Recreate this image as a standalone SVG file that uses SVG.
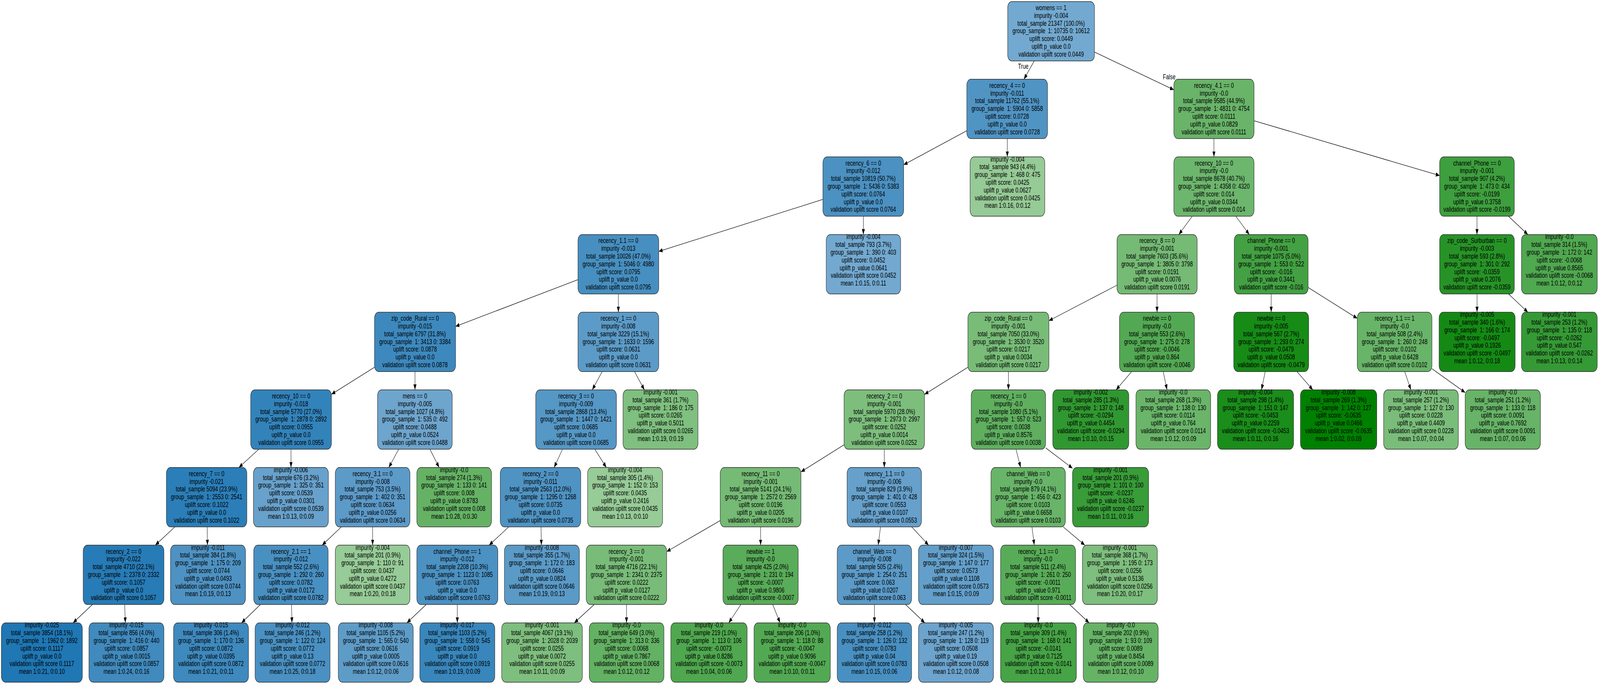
<svg xmlns="http://www.w3.org/2000/svg" width="5827" height="1751" viewBox="0 0 5827 1751" preserveAspectRatio="none" style="width:100vw;height:100vh;display:block">
<defs>
<style>
.node rect{stroke:#2b2b2b;stroke-width:1.5}
text{font-family:"Liberation Sans",Arial,Helvetica,sans-serif;font-size:18.8px;text-anchor:middle;fill:#000}
.edge line{stroke:#000;stroke-width:1.3;fill:none;marker-end:url(#arr)}
</style>
<marker id="arr" markerUnits="userSpaceOnUse" markerWidth="14" markerHeight="11" viewBox="0 0 14 11" refX="14" refY="5.5" orient="auto"><path d="M0,0L14,5.5L0,11z" fill="#000"/></marker>
</defs>
<rect x="0" y="0" width="5827" height="1751" fill="#fff"/>
<g id="edges" class="edge">
<line x1="3766.5" y1="156" x2="3729" y2="202.8"/>
<line x1="3985" y1="132.8" x2="4275" y2="229.9"/>
<line x1="3521" y1="334.6" x2="3291" y2="421.8"/>
<line x1="3668.5" y1="354.8" x2="3668.5" y2="401.6"/>
<line x1="4421" y1="354.8" x2="4421" y2="401.6"/>
<line x1="4567" y1="309.1" x2="5243" y2="449.4"/>
<line x1="2997" y1="510.4" x2="2399" y2="643.6"/>
<line x1="3144.3" y1="553.6" x2="3144.3" y2="600.4"/>
<line x1="4341.9" y1="553.6" x2="4293.1" y2="600.4"/>
<line x1="4500.7" y1="553.6" x2="4549.8" y2="600.4"/>
<line x1="5379" y1="553.6" x2="5379" y2="600.4"/>
<line x1="5493.7" y1="553.6" x2="5564.3" y2="600.4"/>
<line x1="2105" y1="715.9" x2="1659" y2="835.6"/>
<line x1="2252" y1="752.4" x2="2252" y2="799.2"/>
<line x1="4068" y1="730" x2="3820" y2="821"/>
<line x1="4213.8" y1="752.4" x2="4213.8" y2="799.2"/>
<line x1="4629.5" y1="752.4" x2="4629.5" y2="799.2"/>
<line x1="4764" y1="735.9" x2="4943" y2="815.1"/>
<line x1="5379.2" y1="752.4" x2="5379.2" y2="799.2"/>
<line x1="5493.7" y1="752.4" x2="5564.3" y2="799.2"/>
<line x1="1364" y1="940.1" x2="1207" y2="1009.3"/>
<line x1="1511.3" y1="951.2" x2="1511.3" y2="998"/>
<line x1="2193.1" y1="951.2" x2="2156.9" y2="998"/>
<line x1="2310.7" y1="951.2" x2="2346.8" y2="998"/>
<line x1="3525" y1="940.1" x2="3367" y2="1009.6"/>
<line x1="3672.5" y1="951.2" x2="3672.5" y2="998"/>
<line x1="4121.4" y1="951.2" x2="4064.6" y2="998"/>
<line x1="4236.2" y1="951.2" x2="4250.3" y2="998"/>
<line x1="4607.7" y1="951.2" x2="4594.3" y2="998"/>
<line x1="4723.4" y1="951.2" x2="4781.1" y2="998"/>
<line x1="5115.7" y1="951.2" x2="5138.3" y2="998"/>
<line x1="5215" y1="943.8" x2="5336" y2="1004.9"/>
<line x1="942.4" y1="1150" x2="870.1" y2="1196.8"/>
<line x1="1059.8" y1="1150" x2="1059.8" y2="1196.8"/>
<line x1="1452.1" y1="1150" x2="1415.9" y2="1196.8"/>
<line x1="1565.7" y1="1150" x2="1599.3" y2="1196.8"/>
<line x1="2048.5" y1="1150" x2="2018" y2="1196.8"/>
<line x1="2166.2" y1="1150" x2="2208.3" y2="1196.8"/>
<line x1="3074" y1="1138.6" x2="2917" y2="1207.9"/>
<line x1="3220.5" y1="1150" x2="3220.5" y2="1196.8"/>
<line x1="3700" y1="1150" x2="3717" y2="1196.8"/>
<line x1="3808" y1="1146.4" x2="3906" y2="1198.8"/>
<line x1="636.9" y1="1348.8" x2="565.6" y2="1395.6"/>
<line x1="754.4" y1="1348.8" x2="755.6" y2="1395.6"/>
<line x1="1243.3" y1="1348.8" x2="1173.2" y2="1395.6"/>
<line x1="1357" y1="1348.8" x2="1357" y2="1395.6"/>
<line x1="1852.7" y1="1348.8" x2="1781.3" y2="1395.6"/>
<line x1="1970.4" y1="1348.8" x2="1971.6" y2="1395.6"/>
<line x1="2623" y1="1332.6" x2="2428" y2="1412"/>
<line x1="2770" y1="1348.8" x2="2770" y2="1395.6"/>
<line x1="3206.7" y1="1348.8" x2="3198.3" y2="1395.6"/>
<line x1="3320.3" y1="1348.8" x2="3381.7" y2="1395.6"/>
<line x1="3758.3" y1="1348.8" x2="3766.7" y2="1395.6"/>
<line x1="3872.2" y1="1348.8" x2="3950.8" y2="1395.6"/>
<line x1="336.3" y1="1547.6" x2="266.2" y2="1594.4"/>
<line x1="454" y1="1547.6" x2="456.5" y2="1594.4"/>
<line x1="948.3" y1="1547.6" x2="879.7" y2="1594.4"/>
<line x1="1061.8" y1="1547.6" x2="1063.2" y2="1594.4"/>
<line x1="1552" y1="1547.6" x2="1482" y2="1594.4"/>
<line x1="1665.5" y1="1547.6" x2="1665.5" y2="1594.4"/>
<line x1="2163.9" y1="1547.6" x2="2091.6" y2="1594.4"/>
<line x1="2281.7" y1="1547.6" x2="2281.7" y2="1594.4"/>
<line x1="2698.1" y1="1547.6" x2="2653.9" y2="1594.4"/>
<line x1="2814" y1="1547.6" x2="2841" y2="1594.4"/>
<line x1="3184.5" y1="1547.6" x2="3184.5" y2="1594.4"/>
<line x1="3298" y1="1547.6" x2="3368" y2="1594.4"/>
<line x1="3781" y1="1547.6" x2="3781" y2="1594.4"/>
<line x1="3895.6" y1="1547.6" x2="3966.4" y2="1594.4"/>
<text x="3726.5" y="175.7">True</text>
<text x="4258" y="203">False</text>
</g>
<g id="n0" class="node"><rect x="3670" y="4" width="316" height="152" rx="15" fill="#73a9d0"/><text y="26"><tspan x="3828">womens == 1</tspan><tspan x="3828" dy="19.8">impurity -0.004</tspan><tspan x="3828" dy="19.8">total_sample 21347 (100.0%)</tspan><tspan x="3828" dy="19.8">group_sample&#160; 1: 10735 0: 10612</tspan><tspan x="3828" dy="19.8">uplift score: 0.0449</tspan><tspan x="3828" dy="19.8">uplift p_value 0.0</tspan><tspan x="3828" dy="19.8">validation uplift score 0.0449</tspan></text></g>
<g id="n1" class="node"><rect x="3521" y="202.8" width="294" height="152" rx="15" fill="#5094c4"/><text y="224.8"><tspan x="3668">recency_4 == 0</tspan><tspan x="3668" dy="19.8">impurity -0.011</tspan><tspan x="3668" dy="19.8">total_sample 11762 (55.1%)</tspan><tspan x="3668" dy="19.8">group_sample&#160; 1: 5904 0: 5858</tspan><tspan x="3668" dy="19.8">uplift score: 0.0728</tspan><tspan x="3668" dy="19.8">uplift p_value 0.0</tspan><tspan x="3668" dy="19.8">validation uplift score 0.0728</tspan></text></g>
<g id="n2" class="node"><rect x="4275" y="202.8" width="292" height="152" rx="15" fill="#69b469"/><text y="224.8"><tspan x="4421">recency_4.1 == 0</tspan><tspan x="4421" dy="19.8">impurity -0.0</tspan><tspan x="4421" dy="19.8">total_sample 9585 (44.9%)</tspan><tspan x="4421" dy="19.8">group_sample&#160; 1: 4831 0: 4754</tspan><tspan x="4421" dy="19.8">uplift score: 0.0111</tspan><tspan x="4421" dy="19.8">uplift p_value 0.0829</tspan><tspan x="4421" dy="19.8">validation uplift score 0.0111</tspan></text></g>
<g id="n3" class="node"><rect x="2997" y="401.6" width="294" height="152" rx="15" fill="#4b91c2"/><text y="423.6"><tspan x="3144">recency_6 == 0</tspan><tspan x="3144" dy="19.8">impurity -0.012</tspan><tspan x="3144" dy="19.8">total_sample 10819 (50.7%)</tspan><tspan x="3144" dy="19.8">group_sample&#160; 1: 5436 0: 5383</tspan><tspan x="3144" dy="19.8">uplift score: 0.0764</tspan><tspan x="3144" dy="19.8">uplift p_value 0.0</tspan><tspan x="3144" dy="19.8">validation uplift score 0.0764</tspan></text></g>
<g id="n4" class="node"><rect x="3533" y="401.6" width="272" height="152" rx="15" fill="#96ca96"/><text y="413.7"><tspan x="3669">impurity -0.004</tspan><tspan x="3669" dy="19.8">total_sample 943 (4.4%)</tspan><tspan x="3669" dy="19.8">group_sample&#160; 1: 468 0: 475</tspan><tspan x="3669" dy="19.8">uplift score: 0.0425</tspan><tspan x="3669" dy="19.8">uplift p_value 0.0627</tspan><tspan x="3669" dy="19.8">validation uplift score 0.0425</tspan><tspan x="3669" dy="19.8">mean 1:0.16, 0:0.12</tspan></text></g>
<g id="n5" class="node"><rect x="4275" y="401.6" width="292" height="152" rx="15" fill="#6db66d"/><text y="423.6"><tspan x="4421">recency_10 == 0</tspan><tspan x="4421" dy="19.8">impurity -0.0</tspan><tspan x="4421" dy="19.8">total_sample 8678 (40.7%)</tspan><tspan x="4421" dy="19.8">group_sample&#160; 1: 4358 0: 4320</tspan><tspan x="4421" dy="19.8">uplift score: 0.014</tspan><tspan x="4421" dy="19.8">uplift p_value 0.0344</tspan><tspan x="4421" dy="19.8">validation uplift score 0.014</tspan></text></g>
<g id="n6" class="node"><rect x="5243" y="401.6" width="272" height="152" rx="15" fill="#3e9f3e"/><text y="423.6"><tspan x="5379">channel_Phone == 0</tspan><tspan x="5379" dy="19.8">impurity -0.001</tspan><tspan x="5379" dy="19.8">total_sample 907 (4.2%)</tspan><tspan x="5379" dy="19.8">group_sample&#160; 1: 473 0: 434</tspan><tspan x="5379" dy="19.8">uplift score: -0.0199</tspan><tspan x="5379" dy="19.8">uplift p_value 0.3758</tspan><tspan x="5379" dy="19.8">validation uplift score -0.0199</tspan></text></g>
<g id="n7" class="node"><rect x="2105" y="600.4" width="294" height="152" rx="15" fill="#478fc1"/><text y="622.4"><tspan x="2252">recency_1.1 == 0</tspan><tspan x="2252" dy="19.8">impurity -0.013</tspan><tspan x="2252" dy="19.8">total_sample 10026 (47.0%)</tspan><tspan x="2252" dy="19.8">group_sample&#160; 1: 5046 0: 4980</tspan><tspan x="2252" dy="19.8">uplift score: 0.0795</tspan><tspan x="2252" dy="19.8">uplift p_value 0.0</tspan><tspan x="2252" dy="19.8">validation uplift score 0.0795</tspan></text></g>
<g id="n8" class="node"><rect x="3009" y="600.4" width="271" height="152" rx="15" fill="#73a9d0"/><text y="612.5"><tspan x="3144.5">impurity -0.004</tspan><tspan x="3144.5" dy="19.8">total_sample 793 (3.7%)</tspan><tspan x="3144.5" dy="19.8">group_sample&#160; 1: 390 0: 403</tspan><tspan x="3144.5" dy="19.8">uplift score: 0.0452</tspan><tspan x="3144.5" dy="19.8">uplift p_value 0.0641</tspan><tspan x="3144.5" dy="19.8">validation uplift score 0.0452</tspan><tspan x="3144.5" dy="19.8">mean 1:0.15, 0:0.11</tspan></text></g>
<g id="n9" class="node"><rect x="4068" y="600.4" width="292" height="152" rx="15" fill="#75ba75"/><text y="622.4"><tspan x="4214">recency_8 == 0</tspan><tspan x="4214" dy="19.8">impurity -0.001</tspan><tspan x="4214" dy="19.8">total_sample 7603 (35.6%)</tspan><tspan x="4214" dy="19.8">group_sample&#160; 1: 3805 0: 3798</tspan><tspan x="4214" dy="19.8">uplift score: 0.0191</tspan><tspan x="4214" dy="19.8">uplift p_value 0.0076</tspan><tspan x="4214" dy="19.8">validation uplift score 0.0191</tspan></text></g>
<g id="n10" class="node"><rect x="4495" y="600.4" width="269" height="152" rx="15" fill="#43a143"/><text y="622.4"><tspan x="4629.5">channel_Phone == 0</tspan><tspan x="4629.5" dy="19.8">impurity -0.001</tspan><tspan x="4629.5" dy="19.8">total_sample 1075 (5.0%)</tspan><tspan x="4629.5" dy="19.8">group_sample&#160; 1: 553 0: 522</tspan><tspan x="4629.5" dy="19.8">uplift score: -0.016</tspan><tspan x="4629.5" dy="19.8">uplift p_value 0.3441</tspan><tspan x="4629.5" dy="19.8">validation uplift score -0.016</tspan></text></g>
<g id="n11" class="node"><rect x="5243" y="600.4" width="272" height="152" rx="15" fill="#279327"/><text y="622.4"><tspan x="5379">zip_code_Surburban == 0</tspan><tspan x="5379" dy="19.8">impurity -0.003</tspan><tspan x="5379" dy="19.8">total_sample 593 (2.8%)</tspan><tspan x="5379" dy="19.8">group_sample&#160; 1: 301 0: 292</tspan><tspan x="5379" dy="19.8">uplift score: -0.0359</tspan><tspan x="5379" dy="19.8">uplift p_value 0.2076</tspan><tspan x="5379" dy="19.8">validation uplift score -0.0359</tspan></text></g>
<g id="n12" class="node"><rect x="5541" y="600.4" width="276" height="152" rx="15" fill="#50a850"/><text y="612.5"><tspan x="5679">impurity -0.0</tspan><tspan x="5679" dy="19.8">total_sample 314 (1.5%)</tspan><tspan x="5679" dy="19.8">group_sample&#160; 1: 172 0: 142</tspan><tspan x="5679" dy="19.8">uplift score: -0.0068</tspan><tspan x="5679" dy="19.8">uplift p_value 0.8565</tspan><tspan x="5679" dy="19.8">validation uplift score -0.0068</tspan><tspan x="5679" dy="19.8">mean 1:0.12, 0:0.12</tspan></text></g>
<g id="n13" class="node"><rect x="1364" y="799.2" width="295" height="152" rx="15" fill="#3d89be"/><text y="821.2"><tspan x="1511.5">zip_code_Rural == 0</tspan><tspan x="1511.5" dy="19.8">impurity -0.015</tspan><tspan x="1511.5" dy="19.8">total_sample 6797 (31.8%)</tspan><tspan x="1511.5" dy="19.8">group_sample&#160; 1: 3413 0: 3384</tspan><tspan x="1511.5" dy="19.8">uplift score: 0.0878</tspan><tspan x="1511.5" dy="19.8">uplift p_value 0.0</tspan><tspan x="1511.5" dy="19.8">validation uplift score 0.0878</tspan></text></g>
<g id="n14" class="node"><rect x="2105" y="799.2" width="294" height="152" rx="15" fill="#5c9bc8"/><text y="821.2"><tspan x="2252">recency_1 == 0</tspan><tspan x="2252" dy="19.8">impurity -0.008</tspan><tspan x="2252" dy="19.8">total_sample 3229 (15.1%)</tspan><tspan x="2252" dy="19.8">group_sample&#160; 1: 1633 0: 1596</tspan><tspan x="2252" dy="19.8">uplift score: 0.0631</tspan><tspan x="2252" dy="19.8">uplift p_value 0.0</tspan><tspan x="2252" dy="19.8">validation uplift score 0.0631</tspan></text></g>
<g id="n15" class="node"><rect x="3525" y="799.2" width="295" height="152" rx="15" fill="#78bc78"/><text y="821.2"><tspan x="3672.5">zip_code_Rural == 0</tspan><tspan x="3672.5" dy="19.8">impurity -0.001</tspan><tspan x="3672.5" dy="19.8">total_sample 7050 (33.0%)</tspan><tspan x="3672.5" dy="19.8">group_sample&#160; 1: 3530 0: 3520</tspan><tspan x="3672.5" dy="19.8">uplift score: 0.0217</tspan><tspan x="3672.5" dy="19.8">uplift p_value 0.0034</tspan><tspan x="3672.5" dy="19.8">validation uplift score 0.0217</tspan></text></g>
<g id="n16" class="node"><rect x="4077" y="799.2" width="273" height="152" rx="15" fill="#53a953"/><text y="821.2"><tspan x="4213.5">newbie == 0</tspan><tspan x="4213.5" dy="19.8">impurity -0.0</tspan><tspan x="4213.5" dy="19.8">total_sample 553 (2.6%)</tspan><tspan x="4213.5" dy="19.8">group_sample&#160; 1: 275 0: 278</tspan><tspan x="4213.5" dy="19.8">uplift score: -0.0046</tspan><tspan x="4213.5" dy="19.8">uplift p_value 0.864</tspan><tspan x="4213.5" dy="19.8">validation uplift score -0.0046</tspan></text></g>
<g id="n17" class="node"><rect x="4493" y="799.2" width="273" height="152" rx="15" fill="#168b16"/><text y="821.2"><tspan x="4629.5">newbie == 0</tspan><tspan x="4629.5" dy="19.8">impurity -0.005</tspan><tspan x="4629.5" dy="19.8">total_sample 567 (2.7%)</tspan><tspan x="4629.5" dy="19.8">group_sample&#160; 1: 293 0: 274</tspan><tspan x="4629.5" dy="19.8">uplift score: -0.0479</tspan><tspan x="4629.5" dy="19.8">uplift p_value 0.0508</tspan><tspan x="4629.5" dy="19.8">validation uplift score -0.0479</tspan></text></g>
<g id="n18" class="node"><rect x="4943" y="799.2" width="272" height="152" rx="15" fill="#68b468"/><text y="821.2"><tspan x="5079">recency_1.1 == 1</tspan><tspan x="5079" dy="19.8">impurity -0.0</tspan><tspan x="5079" dy="19.8">total_sample 508 (2.4%)</tspan><tspan x="5079" dy="19.8">group_sample&#160; 1: 260 0: 248</tspan><tspan x="5079" dy="19.8">uplift score: 0.0102</tspan><tspan x="5079" dy="19.8">uplift p_value 0.6428</tspan><tspan x="5079" dy="19.8">validation uplift score 0.0102</tspan></text></g>
<g id="n19" class="node"><rect x="5241" y="799.2" width="277" height="152" rx="15" fill="#148a14"/><text y="811.3"><tspan x="5379.5">impurity -0.005</tspan><tspan x="5379.5" dy="19.8">total_sample 340 (1.6%)</tspan><tspan x="5379.5" dy="19.8">group_sample&#160; 1: 166 0: 174</tspan><tspan x="5379.5" dy="19.8">uplift score: -0.0497</tspan><tspan x="5379.5" dy="19.8">uplift p_value 0.1926</tspan><tspan x="5379.5" dy="19.8">validation uplift score -0.0497</tspan><tspan x="5379.5" dy="19.8">mean 1:0.12, 0:0.18</tspan></text></g>
<g id="n20" class="node"><rect x="5541" y="799.2" width="276" height="152" rx="15" fill="#359a35"/><text y="811.3"><tspan x="5679">impurity -0.001</tspan><tspan x="5679" dy="19.8">total_sample 253 (1.2%)</tspan><tspan x="5679" dy="19.8">group_sample&#160; 1: 135 0: 118</tspan><tspan x="5679" dy="19.8">uplift score: -0.0262</tspan><tspan x="5679" dy="19.8">uplift p_value 0.547</tspan><tspan x="5679" dy="19.8">validation uplift score -0.0262</tspan><tspan x="5679" dy="19.8">mean 1:0.13, 0:0.14</tspan></text></g>
<g id="n21" class="node"><rect x="913" y="998" width="294" height="152" rx="15" fill="#3383bb"/><text y="1020"><tspan x="1060">recency_10 == 0</tspan><tspan x="1060" dy="19.8">impurity -0.018</tspan><tspan x="1060" dy="19.8">total_sample 5770 (27.0%)</tspan><tspan x="1060" dy="19.8">group_sample&#160; 1: 2878 0: 2892</tspan><tspan x="1060" dy="19.8">uplift score: 0.0955</tspan><tspan x="1060" dy="19.8">uplift p_value 0.0</tspan><tspan x="1060" dy="19.8">validation uplift score 0.0955</tspan></text></g>
<g id="n22" class="node"><rect x="1375" y="998" width="272" height="152" rx="15" fill="#6ea5cd"/><text y="1020"><tspan x="1511">mens == 0</tspan><tspan x="1511" dy="19.8">impurity -0.005</tspan><tspan x="1511" dy="19.8">total_sample 1027 (4.8%)</tspan><tspan x="1511" dy="19.8">group_sample&#160; 1: 535 0: 492</tspan><tspan x="1511" dy="19.8">uplift score: 0.0488</tspan><tspan x="1511" dy="19.8">uplift p_value 0.0524</tspan><tspan x="1511" dy="19.8">validation uplift score 0.0488</tspan></text></g>
<g id="n23" class="node"><rect x="1951" y="998" width="294" height="152" rx="15" fill="#5597c5"/><text y="1020"><tspan x="2098">recency_3 == 0</tspan><tspan x="2098" dy="19.8">impurity -0.009</tspan><tspan x="2098" dy="19.8">total_sample 2868 (13.4%)</tspan><tspan x="2098" dy="19.8">group_sample&#160; 1: 1447 0: 1421</tspan><tspan x="2098" dy="19.8">uplift score: 0.0685</tspan><tspan x="2098" dy="19.8">uplift p_value 0.0</tspan><tspan x="2098" dy="19.8">validation uplift score 0.0685</tspan></text></g>
<g id="n24" class="node"><rect x="2269" y="998" width="273" height="152" rx="15" fill="#7fbf7f"/><text y="1010.1"><tspan x="2405.5">impurity -0.001</tspan><tspan x="2405.5" dy="19.8">total_sample 361 (1.7%)</tspan><tspan x="2405.5" dy="19.8">group_sample&#160; 1: 186 0: 175</tspan><tspan x="2405.5" dy="19.8">uplift score: 0.0265</tspan><tspan x="2405.5" dy="19.8">uplift p_value 0.5011</tspan><tspan x="2405.5" dy="19.8">validation uplift score 0.0265</tspan><tspan x="2405.5" dy="19.8">mean 1:0.19, 0:0.19</tspan></text></g>
<g id="n25" class="node"><rect x="3074" y="998" width="293" height="152" rx="15" fill="#7dbe7d"/><text y="1020"><tspan x="3220.5">recency_2 == 0</tspan><tspan x="3220.5" dy="19.8">impurity -0.001</tspan><tspan x="3220.5" dy="19.8">total_sample 5970 (28.0%)</tspan><tspan x="3220.5" dy="19.8">group_sample&#160; 1: 2973 0: 2997</tspan><tspan x="3220.5" dy="19.8">uplift score: 0.0252</tspan><tspan x="3220.5" dy="19.8">uplift p_value 0.0014</tspan><tspan x="3220.5" dy="19.8">validation uplift score 0.0252</tspan></text></g>
<g id="n26" class="node"><rect x="3537" y="998" width="271" height="152" rx="15" fill="#5faf5f"/><text y="1020"><tspan x="3672.5">recency_1 == 0</tspan><tspan x="3672.5" dy="19.8">impurity -0.0</tspan><tspan x="3672.5" dy="19.8">total_sample 1080 (5.1%)</tspan><tspan x="3672.5" dy="19.8">group_sample&#160; 1: 557 0: 523</tspan><tspan x="3672.5" dy="19.8">uplift score: 0.0038</tspan><tspan x="3672.5" dy="19.8">uplift p_value 0.8576</tspan><tspan x="3672.5" dy="19.8">validation uplift score 0.0038</tspan></text></g>
<g id="n27" class="node"><rect x="3834" y="998" width="277" height="152" rx="15" fill="#309830"/><text y="1010.1"><tspan x="3972.5">impurity -0.002</tspan><tspan x="3972.5" dy="19.8">total_sample 285 (1.3%)</tspan><tspan x="3972.5" dy="19.8">group_sample&#160; 1: 137 0: 148</tspan><tspan x="3972.5" dy="19.8">uplift score: -0.0294</tspan><tspan x="3972.5" dy="19.8">uplift p_value 0.4454</tspan><tspan x="3972.5" dy="19.8">validation uplift score -0.0294</tspan><tspan x="3972.5" dy="19.8">mean 1:0.10, 0:0.15</tspan></text></g>
<g id="n28" class="node"><rect x="4137" y="998" width="272" height="152" rx="15" fill="#6ab56a"/><text y="1010.1"><tspan x="4273">impurity -0.0</tspan><tspan x="4273" dy="19.8">total_sample 268 (1.3%)</tspan><tspan x="4273" dy="19.8">group_sample&#160; 1: 138 0: 130</tspan><tspan x="4273" dy="19.8">uplift score: 0.0114</tspan><tspan x="4273" dy="19.8">uplift p_value 0.764</tspan><tspan x="4273" dy="19.8">validation uplift score 0.0114</tspan><tspan x="4273" dy="19.8">mean 1:0.12, 0:0.09</tspan></text></g>
<g id="n29" class="node"><rect x="4434" y="998" width="277" height="152" rx="15" fill="#1a8d1a"/><text y="1010.1"><tspan x="4572.5">impurity -0.004</tspan><tspan x="4572.5" dy="19.8">total_sample 298 (1.4%)</tspan><tspan x="4572.5" dy="19.8">group_sample&#160; 1: 151 0: 147</tspan><tspan x="4572.5" dy="19.8">uplift score: -0.0453</tspan><tspan x="4572.5" dy="19.8">uplift p_value 0.2259</tspan><tspan x="4572.5" dy="19.8">validation uplift score -0.0453</tspan><tspan x="4572.5" dy="19.8">mean 1:0.11, 0:0.16</tspan></text></g>
<g id="n30" class="node"><rect x="4736" y="998" width="278" height="152" rx="15" fill="#008000"/><text y="1010.1"><tspan x="4875">impurity -0.008</tspan><tspan x="4875" dy="19.8">total_sample 269 (1.3%)</tspan><tspan x="4875" dy="19.8">group_sample&#160; 1: 142 0: 127</tspan><tspan x="4875" dy="19.8">uplift score: -0.0635</tspan><tspan x="4875" dy="19.8">uplift p_value 0.0466</tspan><tspan x="4875" dy="19.8">validation uplift score -0.0635</tspan><tspan x="4875" dy="19.8">mean 1:0.02, 0:0.09</tspan></text></g>
<g id="n31" class="node"><rect x="5039" y="998" width="272" height="152" rx="15" fill="#7abd7a"/><text y="1010.1"><tspan x="5175">impurity -0.001</tspan><tspan x="5175" dy="19.8">total_sample 257 (1.2%)</tspan><tspan x="5175" dy="19.8">group_sample&#160; 1: 127 0: 130</tspan><tspan x="5175" dy="19.8">uplift score: 0.0228</tspan><tspan x="5175" dy="19.8">uplift p_value 0.4409</tspan><tspan x="5175" dy="19.8">validation uplift score 0.0228</tspan><tspan x="5175" dy="19.8">mean 1:0.07, 0:0.04</tspan></text></g>
<g id="n32" class="node"><rect x="5336" y="998" width="274" height="152" rx="15" fill="#67b367"/><text y="1010.1"><tspan x="5473">impurity -0.0</tspan><tspan x="5473" dy="19.8">total_sample 251 (1.2%)</tspan><tspan x="5473" dy="19.8">group_sample&#160; 1: 133 0: 118</tspan><tspan x="5473" dy="19.8">uplift score: 0.0091</tspan><tspan x="5473" dy="19.8">uplift p_value 0.7692</tspan><tspan x="5473" dy="19.8">validation uplift score 0.0091</tspan><tspan x="5473" dy="19.8">mean 1:0.07, 0:0.06</tspan></text></g>
<g id="n33" class="node"><rect x="606" y="1196.8" width="293" height="152" rx="15" fill="#2b7eb8"/><text y="1218.8"><tspan x="752.5">recency_7 == 0</tspan><tspan x="752.5" dy="19.8">impurity -0.021</tspan><tspan x="752.5" dy="19.8">total_sample 5094 (23.9%)</tspan><tspan x="752.5" dy="19.8">group_sample&#160; 1: 2553 0: 2541</tspan><tspan x="752.5" dy="19.8">uplift score: 0.1022</tspan><tspan x="752.5" dy="19.8">uplift p_value 0.0</tspan><tspan x="752.5" dy="19.8">validation uplift score 0.1022</tspan></text></g>
<g id="n34" class="node"><rect x="923" y="1196.8" width="273" height="152" rx="15" fill="#68a1cb"/><text y="1208.9"><tspan x="1059.5">impurity -0.006</tspan><tspan x="1059.5" dy="19.8">total_sample 676 (3.2%)</tspan><tspan x="1059.5" dy="19.8">group_sample&#160; 1: 325 0: 351</tspan><tspan x="1059.5" dy="19.8">uplift score: 0.0539</tspan><tspan x="1059.5" dy="19.8">uplift p_value 0.0301</tspan><tspan x="1059.5" dy="19.8">validation uplift score 0.0539</tspan><tspan x="1059.5" dy="19.8">mean 1:0.13, 0:0.09</tspan></text></g>
<g id="n35" class="node"><rect x="1221" y="1196.8" width="272" height="152" rx="15" fill="#5c9ac8"/><text y="1218.8"><tspan x="1357">recency_3.1 == 0</tspan><tspan x="1357" dy="19.8">impurity -0.008</tspan><tspan x="1357" dy="19.8">total_sample 753 (3.5%)</tspan><tspan x="1357" dy="19.8">group_sample&#160; 1: 402 0: 351</tspan><tspan x="1357" dy="19.8">uplift score: 0.0634</tspan><tspan x="1357" dy="19.8">uplift p_value 0.0256</tspan><tspan x="1357" dy="19.8">validation uplift score 0.0634</tspan></text></g>
<g id="n36" class="node"><rect x="1518" y="1196.8" width="272" height="152" rx="15" fill="#65b265"/><text y="1208.9"><tspan x="1654">impurity -0.0</tspan><tspan x="1654" dy="19.8">total_sample 274 (1.3%)</tspan><tspan x="1654" dy="19.8">group_sample&#160; 1: 133 0: 141</tspan><tspan x="1654" dy="19.8">uplift score: 0.008</tspan><tspan x="1654" dy="19.8">uplift p_value 0.8783</tspan><tspan x="1654" dy="19.8">validation uplift score 0.008</tspan><tspan x="1654" dy="19.8">mean 1:0.28, 0:0.30</tspan></text></g>
<g id="n37" class="node"><rect x="1822" y="1196.8" width="293" height="152" rx="15" fill="#4f93c3"/><text y="1218.8"><tspan x="1968.5">recency_2 == 0</tspan><tspan x="1968.5" dy="19.8">impurity -0.011</tspan><tspan x="1968.5" dy="19.8">total_sample 2563 (12.0%)</tspan><tspan x="1968.5" dy="19.8">group_sample&#160; 1: 1295 0: 1268</tspan><tspan x="1968.5" dy="19.8">uplift score: 0.0735</tspan><tspan x="1968.5" dy="19.8">uplift p_value 0.0</tspan><tspan x="1968.5" dy="19.8">validation uplift score 0.0735</tspan></text></g>
<g id="n38" class="node"><rect x="2140" y="1196.8" width="273" height="152" rx="15" fill="#97cb97"/><text y="1208.9"><tspan x="2276.5">impurity -0.004</tspan><tspan x="2276.5" dy="19.8">total_sample 305 (1.4%)</tspan><tspan x="2276.5" dy="19.8">group_sample&#160; 1: 152 0: 153</tspan><tspan x="2276.5" dy="19.8">uplift score: 0.0435</tspan><tspan x="2276.5" dy="19.8">uplift p_value 0.2416</tspan><tspan x="2276.5" dy="19.8">validation uplift score 0.0435</tspan><tspan x="2276.5" dy="19.8">mean 1:0.13, 0:0.10</tspan></text></g>
<g id="n39" class="node"><rect x="2623" y="1196.8" width="294" height="152" rx="15" fill="#75ba75"/><text y="1218.8"><tspan x="2770">recency_11 == 0</tspan><tspan x="2770" dy="19.8">impurity -0.001</tspan><tspan x="2770" dy="19.8">total_sample 5141 (24.1%)</tspan><tspan x="2770" dy="19.8">group_sample&#160; 1: 2572 0: 2569</tspan><tspan x="2770" dy="19.8">uplift score: 0.0196</tspan><tspan x="2770" dy="19.8">uplift p_value 0.0205</tspan><tspan x="2770" dy="19.8">validation uplift score 0.0196</tspan></text></g>
<g id="n40" class="node"><rect x="3085" y="1196.8" width="271" height="152" rx="15" fill="#66a0cb"/><text y="1218.8"><tspan x="3220.5">recency_1.1 == 0</tspan><tspan x="3220.5" dy="19.8">impurity -0.006</tspan><tspan x="3220.5" dy="19.8">total_sample 829 (3.9%)</tspan><tspan x="3220.5" dy="19.8">group_sample&#160; 1: 401 0: 428</tspan><tspan x="3220.5" dy="19.8">uplift score: 0.0553</tspan><tspan x="3220.5" dy="19.8">uplift p_value 0.0107</tspan><tspan x="3220.5" dy="19.8">validation uplift score 0.0553</tspan></text></g>
<g id="n41" class="node"><rect x="3609" y="1196.8" width="271" height="152" rx="15" fill="#68b468"/><text y="1218.8"><tspan x="3744.5">channel_Web == 0</tspan><tspan x="3744.5" dy="19.8">impurity -0.0</tspan><tspan x="3744.5" dy="19.8">total_sample 879 (4.1%)</tspan><tspan x="3744.5" dy="19.8">group_sample&#160; 1: 456 0: 423</tspan><tspan x="3744.5" dy="19.8">uplift score: 0.0103</tspan><tspan x="3744.5" dy="19.8">uplift p_value 0.6658</tspan><tspan x="3744.5" dy="19.8">validation uplift score 0.0103</tspan></text></g>
<g id="n42" class="node"><rect x="3906" y="1196.8" width="277" height="152" rx="15" fill="#389c38"/><text y="1208.9"><tspan x="4044.5">impurity -0.001</tspan><tspan x="4044.5" dy="19.8">total_sample 201 (0.9%)</tspan><tspan x="4044.5" dy="19.8">group_sample&#160; 1: 101 0: 100</tspan><tspan x="4044.5" dy="19.8">uplift score: -0.0237</tspan><tspan x="4044.5" dy="19.8">uplift p_value 0.6246</tspan><tspan x="4044.5" dy="19.8">validation uplift score -0.0237</tspan><tspan x="4044.5" dy="19.8">mean 1:0.11, 0:0.16</tspan></text></g>
<g id="n43" class="node"><rect x="303" y="1395.6" width="294" height="152" rx="15" fill="#277bb6"/><text y="1417.6"><tspan x="450">recency_2 == 0</tspan><tspan x="450" dy="19.8">impurity -0.022</tspan><tspan x="450" dy="19.8">total_sample 4710 (22.1%)</tspan><tspan x="450" dy="19.8">group_sample&#160; 1: 2378 0: 2332</tspan><tspan x="450" dy="19.8">uplift score: 0.1057</tspan><tspan x="450" dy="19.8">uplift p_value 0.0</tspan><tspan x="450" dy="19.8">validation uplift score 0.1057</tspan></text></g>
<g id="n44" class="node"><rect x="621" y="1395.6" width="273" height="152" rx="15" fill="#4e92c3"/><text y="1407.7"><tspan x="757.5">impurity -0.011</tspan><tspan x="757.5" dy="19.8">total_sample 384 (1.8%)</tspan><tspan x="757.5" dy="19.8">group_sample&#160; 1: 175 0: 209</tspan><tspan x="757.5" dy="19.8">uplift score: 0.0744</tspan><tspan x="757.5" dy="19.8">uplift p_value 0.0493</tspan><tspan x="757.5" dy="19.8">validation uplift score 0.0744</tspan><tspan x="757.5" dy="19.8">mean 1:0.19, 0:0.13</tspan></text></g>
<g id="n45" class="node"><rect x="924" y="1395.6" width="271" height="152" rx="15" fill="#4990c2"/><text y="1417.6"><tspan x="1059.5">recency_2.1 == 1</tspan><tspan x="1059.5" dy="19.8">impurity -0.012</tspan><tspan x="1059.5" dy="19.8">total_sample 552 (2.6%)</tspan><tspan x="1059.5" dy="19.8">group_sample&#160; 1: 292 0: 260</tspan><tspan x="1059.5" dy="19.8">uplift score: 0.0782</tspan><tspan x="1059.5" dy="19.8">uplift p_value 0.0172</tspan><tspan x="1059.5" dy="19.8">validation uplift score 0.0782</tspan></text></g>
<g id="n46" class="node"><rect x="1221" y="1395.6" width="272" height="152" rx="15" fill="#97cb97"/><text y="1407.7"><tspan x="1357">impurity -0.004</tspan><tspan x="1357" dy="19.8">total_sample 201 (0.9%)</tspan><tspan x="1357" dy="19.8">group_sample&#160; 1: 110 0: 91</tspan><tspan x="1357" dy="19.8">uplift score: 0.0437</tspan><tspan x="1357" dy="19.8">uplift p_value 0.4272</tspan><tspan x="1357" dy="19.8">validation uplift score 0.0437</tspan><tspan x="1357" dy="19.8">mean 1:0.20, 0:0.18</tspan></text></g>
<g id="n47" class="node"><rect x="1518" y="1395.6" width="295" height="152" rx="15" fill="#4b91c2"/><text y="1417.6"><tspan x="1665.5">channel_Phone == 1</tspan><tspan x="1665.5" dy="19.8">impurity -0.012</tspan><tspan x="1665.5" dy="19.8">total_sample 2208 (10.3%)</tspan><tspan x="1665.5" dy="19.8">group_sample&#160; 1: 1123 0: 1085</tspan><tspan x="1665.5" dy="19.8">uplift score: 0.0763</tspan><tspan x="1665.5" dy="19.8">uplift p_value 0.0</tspan><tspan x="1665.5" dy="19.8">validation uplift score 0.0763</tspan></text></g>
<g id="n48" class="node"><rect x="1837" y="1395.6" width="273" height="152" rx="15" fill="#5a9ac7"/><text y="1407.7"><tspan x="1973.5">impurity -0.008</tspan><tspan x="1973.5" dy="19.8">total_sample 355 (1.7%)</tspan><tspan x="1973.5" dy="19.8">group_sample&#160; 1: 172 0: 183</tspan><tspan x="1973.5" dy="19.8">uplift score: 0.0646</tspan><tspan x="1973.5" dy="19.8">uplift p_value 0.0824</tspan><tspan x="1973.5" dy="19.8">validation uplift score 0.0646</tspan><tspan x="1973.5" dy="19.8">mean 1:0.19, 0:0.13</tspan></text></g>
<g id="n49" class="node"><rect x="2135" y="1395.6" width="293" height="152" rx="15" fill="#79bc79"/><text y="1417.6"><tspan x="2281.5">recency_3 == 0</tspan><tspan x="2281.5" dy="19.8">impurity -0.001</tspan><tspan x="2281.5" dy="19.8">total_sample 4716 (22.1%)</tspan><tspan x="2281.5" dy="19.8">group_sample&#160; 1: 2341 0: 2375</tspan><tspan x="2281.5" dy="19.8">uplift score: 0.0222</tspan><tspan x="2281.5" dy="19.8">uplift p_value 0.0127</tspan><tspan x="2281.5" dy="19.8">validation uplift score 0.0222</tspan></text></g>
<g id="n50" class="node"><rect x="2633" y="1395.6" width="274" height="152" rx="15" fill="#59ac59"/><text y="1417.6"><tspan x="2770">newbie == 1</tspan><tspan x="2770" dy="19.8">impurity -0.0</tspan><tspan x="2770" dy="19.8">total_sample 425 (2.0%)</tspan><tspan x="2770" dy="19.8">group_sample&#160; 1: 231 0: 194</tspan><tspan x="2770" dy="19.8">uplift score: -0.0007</tspan><tspan x="2770" dy="19.8">uplift p_value 0.9806</tspan><tspan x="2770" dy="19.8">validation uplift score -0.0007</tspan></text></g>
<g id="n51" class="node"><rect x="3049" y="1395.6" width="271" height="152" rx="15" fill="#5c9bc8"/><text y="1417.6"><tspan x="3184.5">channel_Web == 0</tspan><tspan x="3184.5" dy="19.8">impurity -0.008</tspan><tspan x="3184.5" dy="19.8">total_sample 505 (2.4%)</tspan><tspan x="3184.5" dy="19.8">group_sample&#160; 1: 254 0: 251</tspan><tspan x="3184.5" dy="19.8">uplift score: 0.063</tspan><tspan x="3184.5" dy="19.8">uplift p_value 0.0207</tspan><tspan x="3184.5" dy="19.8">validation uplift score 0.063</tspan></text></g>
<g id="n52" class="node"><rect x="3345" y="1395.6" width="273" height="152" rx="15" fill="#639fca"/><text y="1407.7"><tspan x="3481.5">impurity -0.007</tspan><tspan x="3481.5" dy="19.8">total_sample 324 (1.5%)</tspan><tspan x="3481.5" dy="19.8">group_sample&#160; 1: 147 0: 177</tspan><tspan x="3481.5" dy="19.8">uplift score: 0.0573</tspan><tspan x="3481.5" dy="19.8">uplift p_value 0.1108</tspan><tspan x="3481.5" dy="19.8">validation uplift score 0.0573</tspan><tspan x="3481.5" dy="19.8">mean 1:0.15, 0:0.09</tspan></text></g>
<g id="n53" class="node"><rect x="3644" y="1395.6" width="273" height="152" rx="15" fill="#58ac58"/><text y="1417.6"><tspan x="3780.5">recency_1.1 == 0</tspan><tspan x="3780.5" dy="19.8">impurity -0.0</tspan><tspan x="3780.5" dy="19.8">total_sample 511 (2.4%)</tspan><tspan x="3780.5" dy="19.8">group_sample&#160; 1: 261 0: 250</tspan><tspan x="3780.5" dy="19.8">uplift score: -0.0011</tspan><tspan x="3780.5" dy="19.8">uplift p_value 0.971</tspan><tspan x="3780.5" dy="19.8">validation uplift score -0.0011</tspan></text></g>
<g id="n54" class="node"><rect x="3942" y="1395.6" width="273" height="152" rx="15" fill="#7ebe7e"/><text y="1407.7"><tspan x="4078.5">impurity -0.001</tspan><tspan x="4078.5" dy="19.8">total_sample 368 (1.7%)</tspan><tspan x="4078.5" dy="19.8">group_sample&#160; 1: 195 0: 173</tspan><tspan x="4078.5" dy="19.8">uplift score: 0.0256</tspan><tspan x="4078.5" dy="19.8">uplift p_value 0.5136</tspan><tspan x="4078.5" dy="19.8">validation uplift score 0.0256</tspan><tspan x="4078.5" dy="19.8">mean 1:0.20, 0:0.17</tspan></text></g>
<g id="n55" class="node"><rect x="5" y="1594.4" width="295" height="152" rx="15" fill="#1f77b4"/><text y="1606.5"><tspan x="152.5">impurity -0.025</tspan><tspan x="152.5" dy="19.8">total_sample 3854 (18.1%)</tspan><tspan x="152.5" dy="19.8">group_sample&#160; 1: 1962 0: 1892</tspan><tspan x="152.5" dy="19.8">uplift score: 0.1117</tspan><tspan x="152.5" dy="19.8">uplift p_value 0.0</tspan><tspan x="152.5" dy="19.8">validation uplift score 0.1117</tspan><tspan x="152.5" dy="19.8">mean 1:0.21, 0:0.10</tspan></text></g>
<g id="n56" class="node"><rect x="324" y="1594.4" width="273" height="152" rx="15" fill="#408abe"/><text y="1606.5"><tspan x="460.5">impurity -0.015</tspan><tspan x="460.5" dy="19.8">total_sample 856 (4.0%)</tspan><tspan x="460.5" dy="19.8">group_sample&#160; 1: 416 0: 440</tspan><tspan x="460.5" dy="19.8">uplift score: 0.0857</tspan><tspan x="460.5" dy="19.8">uplift p_value 0.0015</tspan><tspan x="460.5" dy="19.8">validation uplift score 0.0857</tspan><tspan x="460.5" dy="19.8">mean 1:0.24, 0:0.16</tspan></text></g>
<g id="n57" class="node"><rect x="632" y="1594.4" width="273" height="152" rx="15" fill="#3e89be"/><text y="1606.5"><tspan x="768.5">impurity -0.015</tspan><tspan x="768.5" dy="19.8">total_sample 306 (1.4%)</tspan><tspan x="768.5" dy="19.8">group_sample&#160; 1: 170 0: 136</tspan><tspan x="768.5" dy="19.8">uplift score: 0.0872</tspan><tspan x="768.5" dy="19.8">uplift p_value 0.0395</tspan><tspan x="768.5" dy="19.8">validation uplift score 0.0872</tspan><tspan x="768.5" dy="19.8">mean 1:0.21, 0:0.11</tspan></text></g>
<g id="n58" class="node"><rect x="929" y="1594.4" width="273" height="152" rx="15" fill="#4a90c2"/><text y="1606.5"><tspan x="1065.5">impurity -0.012</tspan><tspan x="1065.5" dy="19.8">total_sample 246 (1.2%)</tspan><tspan x="1065.5" dy="19.8">group_sample&#160; 1: 122 0: 124</tspan><tspan x="1065.5" dy="19.8">uplift score: 0.0772</tspan><tspan x="1065.5" dy="19.8">uplift p_value 0.13</tspan><tspan x="1065.5" dy="19.8">validation uplift score 0.0772</tspan><tspan x="1065.5" dy="19.8">mean 1:0.25, 0:0.18</tspan></text></g>
<g id="n59" class="node"><rect x="1232" y="1594.4" width="273" height="152" rx="15" fill="#5e9cc8"/><text y="1606.5"><tspan x="1368.5">impurity -0.008</tspan><tspan x="1368.5" dy="19.8">total_sample 1105 (5.2%)</tspan><tspan x="1368.5" dy="19.8">group_sample&#160; 1: 565 0: 540</tspan><tspan x="1368.5" dy="19.8">uplift score: 0.0616</tspan><tspan x="1368.5" dy="19.8">uplift p_value 0.0005</tspan><tspan x="1368.5" dy="19.8">validation uplift score 0.0616</tspan><tspan x="1368.5" dy="19.8">mean 1:0.12, 0:0.06</tspan></text></g>
<g id="n60" class="node"><rect x="1529" y="1594.4" width="273" height="152" rx="15" fill="#3886bc"/><text y="1606.5"><tspan x="1665.5">impurity -0.017</tspan><tspan x="1665.5" dy="19.8">total_sample 1103 (5.2%)</tspan><tspan x="1665.5" dy="19.8">group_sample&#160; 1: 558 0: 545</tspan><tspan x="1665.5" dy="19.8">uplift score: 0.0919</tspan><tspan x="1665.5" dy="19.8">uplift p_value 0.0</tspan><tspan x="1665.5" dy="19.8">validation uplift score 0.0919</tspan><tspan x="1665.5" dy="19.8">mean 1:0.19, 0:0.09</tspan></text></g>
<g id="n61" class="node"><rect x="1827" y="1594.4" width="294" height="152" rx="15" fill="#7ebe7e"/><text y="1606.5"><tspan x="1974">impurity -0.001</tspan><tspan x="1974" dy="19.8">total_sample 4067 (19.1%)</tspan><tspan x="1974" dy="19.8">group_sample&#160; 1: 2028 0: 2039</tspan><tspan x="1974" dy="19.8">uplift score: 0.0255</tspan><tspan x="1974" dy="19.8">uplift p_value 0.0072</tspan><tspan x="1974" dy="19.8">validation uplift score 0.0255</tspan><tspan x="1974" dy="19.8">mean 1:0.11, 0:0.09</tspan></text></g>
<g id="n62" class="node"><rect x="2146" y="1594.4" width="272" height="152" rx="15" fill="#63b163"/><text y="1606.5"><tspan x="2282">impurity -0.0</tspan><tspan x="2282" dy="19.8">total_sample 649 (3.0%)</tspan><tspan x="2282" dy="19.8">group_sample&#160; 1: 313 0: 336</tspan><tspan x="2282" dy="19.8">uplift score: 0.0068</tspan><tspan x="2282" dy="19.8">uplift p_value 0.7867</tspan><tspan x="2282" dy="19.8">validation uplift score 0.0068</tspan><tspan x="2282" dy="19.8">mean 1:0.12, 0:0.12</tspan></text></g>
<g id="n63" class="node"><rect x="2443" y="1594.4" width="278" height="152" rx="15" fill="#4fa74f"/><text y="1606.5"><tspan x="2582">impurity -0.0</tspan><tspan x="2582" dy="19.8">total_sample 219 (1.0%)</tspan><tspan x="2582" dy="19.8">group_sample&#160; 1: 113 0: 106</tspan><tspan x="2582" dy="19.8">uplift score: -0.0073</tspan><tspan x="2582" dy="19.8">uplift p_value 0.8286</tspan><tspan x="2582" dy="19.8">validation uplift score -0.0073</tspan><tspan x="2582" dy="19.8">mean 1:0.04, 0:0.06</tspan></text></g>
<g id="n64" class="node"><rect x="2746" y="1594.4" width="278" height="152" rx="15" fill="#53a953"/><text y="1606.5"><tspan x="2885">impurity -0.0</tspan><tspan x="2885" dy="19.8">total_sample 206 (1.0%)</tspan><tspan x="2885" dy="19.8">group_sample&#160; 1: 118 0: 88</tspan><tspan x="2885" dy="19.8">uplift score: -0.0047</tspan><tspan x="2885" dy="19.8">uplift p_value 0.9096</tspan><tspan x="2885" dy="19.8">validation uplift score -0.0047</tspan><tspan x="2885" dy="19.8">mean 1:0.10, 0:0.11</tspan></text></g>
<g id="n65" class="node"><rect x="3049" y="1594.4" width="271" height="152" rx="15" fill="#4990c2"/><text y="1606.5"><tspan x="3184.5">impurity -0.012</tspan><tspan x="3184.5" dy="19.8">total_sample 258 (1.2%)</tspan><tspan x="3184.5" dy="19.8">group_sample&#160; 1: 126 0: 132</tspan><tspan x="3184.5" dy="19.8">uplift score: 0.0783</tspan><tspan x="3184.5" dy="19.8">uplift p_value 0.04</tspan><tspan x="3184.5" dy="19.8">validation uplift score 0.0783</tspan><tspan x="3184.5" dy="19.8">mean 1:0.15, 0:0.06</tspan></text></g>
<g id="n66" class="node"><rect x="3345" y="1594.4" width="273" height="152" rx="15" fill="#6ca4cd"/><text y="1606.5"><tspan x="3481.5">impurity -0.005</tspan><tspan x="3481.5" dy="19.8">total_sample 247 (1.2%)</tspan><tspan x="3481.5" dy="19.8">group_sample&#160; 1: 128 0: 119</tspan><tspan x="3481.5" dy="19.8">uplift score: 0.0508</tspan><tspan x="3481.5" dy="19.8">uplift p_value 0.19</tspan><tspan x="3481.5" dy="19.8">validation uplift score 0.0508</tspan><tspan x="3481.5" dy="19.8">mean 1:0.12, 0:0.08</tspan></text></g>
<g id="n67" class="node"><rect x="3644" y="1594.4" width="276" height="152" rx="15" fill="#46a346"/><text y="1606.5"><tspan x="3782">impurity -0.0</tspan><tspan x="3782" dy="19.8">total_sample 309 (1.4%)</tspan><tspan x="3782" dy="19.8">group_sample&#160; 1: 168 0: 141</tspan><tspan x="3782" dy="19.8">uplift score: -0.0141</tspan><tspan x="3782" dy="19.8">uplift p_value 0.7125</tspan><tspan x="3782" dy="19.8">validation uplift score -0.0141</tspan><tspan x="3782" dy="19.8">mean 1:0.12, 0:0.14</tspan></text></g>
<g id="n68" class="node"><rect x="3945" y="1594.4" width="273" height="152" rx="15" fill="#66b366"/><text y="1606.5"><tspan x="4081.5">impurity -0.0</tspan><tspan x="4081.5" dy="19.8">total_sample 202 (0.9%)</tspan><tspan x="4081.5" dy="19.8">group_sample&#160; 1: 93 0: 109</tspan><tspan x="4081.5" dy="19.8">uplift score: 0.0089</tspan><tspan x="4081.5" dy="19.8">uplift p_value 0.8454</tspan><tspan x="4081.5" dy="19.8">validation uplift score 0.0089</tspan><tspan x="4081.5" dy="19.8">mean 1:0.12, 0:0.10</tspan></text></g>
</svg>
